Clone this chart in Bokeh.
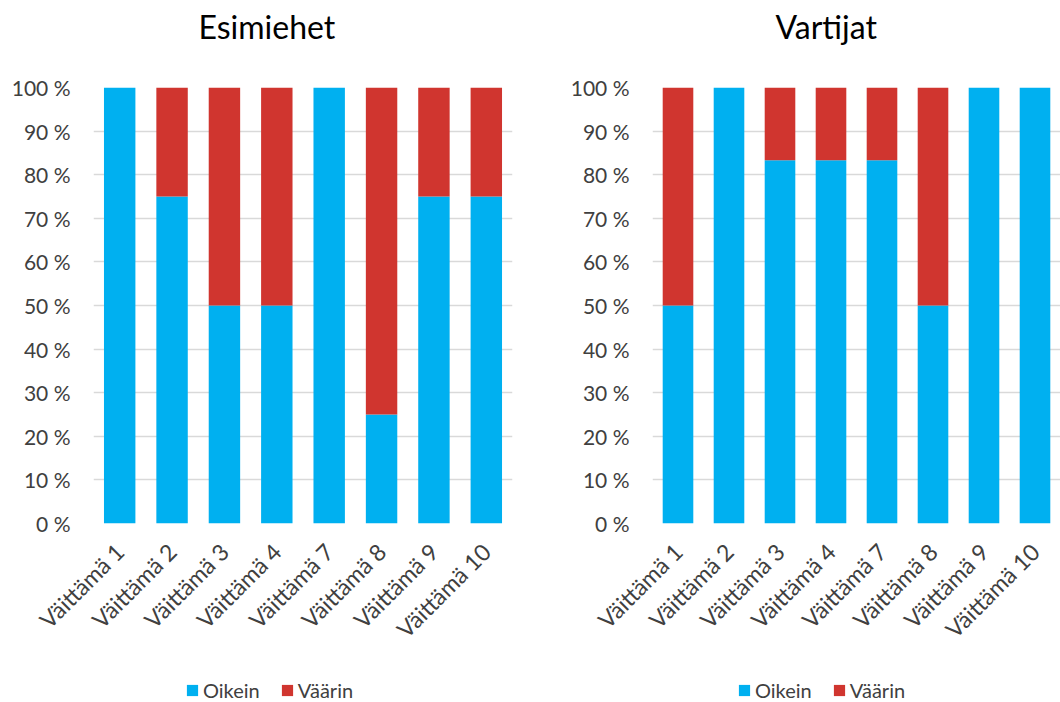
import math
from bokeh.plotting import figure
from bokeh.layouts import row, column
from bokeh.models import FixedTicker, Legend, LegendItem, Title, FactorRange, Range1d
from bokeh.embed import file_html
from bokeh.resources import INLINE

categories = ["Väittämä 1", "Väittämä 2", "Väittämä 3", "Väittämä 4",
              "Väittämä 7", "Väittämä 8", "Väittämä 9", "Väittämä 10"]
esimiehet_oikein = [100, 75, 50, 50, 100, 25, 75, 75]
esimiehet_vaarin = [0, 25, 50, 50, 0, 75, 25, 25]
vartijat_oikein = [50, 100, 83.3, 83.3, 83.3, 50, 100, 100]
vartijat_vaarin = [50, 0, 16.7, 16.7, 16.7, 50, 0, 0]
series_names = ["Oikein", "Väärin"]
y_ticks = [0, 10, 20, 30, 40, 50, 60, 70, 80, 90, 100]
y_tick_labels = ["0 %", "10 %", "20 %", "30 %", "40 %", "50 %", "60 %", "70 %", "80 %", "90 %", "100 %"]

BLUE = "#00B0F0"
RED = "#D0352F"
COLORS = [BLUE, RED]
FONT = "Lato"


def make_panel(title, data, border_left, border_right, title_offset):
    p = figure(x_range=FactorRange(*categories), y_range=(0, 100),
               width=530, height=662,
               output_backend="svg", toolbar_location=None,
               min_border_left=border_left, min_border_right=border_right,
               min_border_top=87, min_border_bottom=139)
    p.vbar_stack(series_names, x="cat", width=0.6, color=COLORS,
                 line_color=None, source=data)
    p.title = Title(text=title, align="left", text_font=FONT,
                    text_font_size="32px", text_font_style="normal",
                    text_color="#000000", offset=title_offset, standoff=6)
    p.add_layout(Title(text=" ", text_font_size="24px", standoff=10), "above")
    p.yaxis.ticker = FixedTicker(ticks=y_ticks)
    p.yaxis.major_label_overrides = {t: l for t, l in zip(y_ticks, y_tick_labels)}
    for ax in (p.xaxis[0], p.yaxis[0]):
        ax.axis_line_color = None
        ax.major_tick_line_color = None
        ax.minor_tick_line_color = None
        ax.major_label_text_font = FONT
        ax.major_label_text_color = "#404040"
    p.yaxis.major_label_text_font_size = "21px"
    p.xaxis.major_label_text_font_size = "23px"
    p.yaxis.major_label_standoff = 17
    p.xaxis.major_label_orientation = math.pi / 4
    p.xaxis.major_label_standoff = 18
    p.xgrid.grid_line_color = None
    p.ygrid.grid_line_color = "#D9D9D9"
    p.ygrid.grid_line_width = 1.5
    p.outline_line_color = None
    return p


def make_legend(data, x_pos):
    # legend strip: same series, with the bars themselves outside the visible y range
    lf = figure(x_range=FactorRange(*categories), y_range=Range1d(200, 300),
                width=530, height=40, output_backend="svg", toolbar_location=None,
                x_axis_location=None, y_axis_location=None, min_border=0)
    lf.outline_line_color = None
    for g in lf.grid:
        g.visible = False
    rs = lf.vbar_stack(series_names, x="cat", width=0.6, color=COLORS,
                       line_color=None, source=data)
    items = [LegendItem(label=n, renderers=[r]) for n, r in zip(series_names, rs)]
    legend = Legend(items=items, orientation="horizontal", location=(x_pos, 0),
                    label_text_font=FONT, label_text_font_size="20px",
                    label_text_color="#404040", glyph_width=14, glyph_height=14,
                    spacing=20, label_standoff=4, border_line_color=None,
                    background_fill_alpha=0, margin=0, padding=0)
    lf.add_layout(legend)
    return lf


data1 = {"cat": categories, "Oikein": esimiehet_oikein, "Väärin": esimiehet_vaarin}
data2 = {"cat": categories, "Oikein": vartijat_oikein, "Väärin": vartijat_vaarin}

p1 = make_panel("Esimiehet", data1, 93, 18, 105)
p2 = make_panel("Vartijat", data2, 122, 0, 123)
l1 = make_legend(data1, 185)
l2 = make_legend(data2, 207)

layout = column(row(p1, p2, spacing=0), row(l1, l2, spacing=0), spacing=0)
open("out.html", "w").write(file_html(layout, INLINE))
